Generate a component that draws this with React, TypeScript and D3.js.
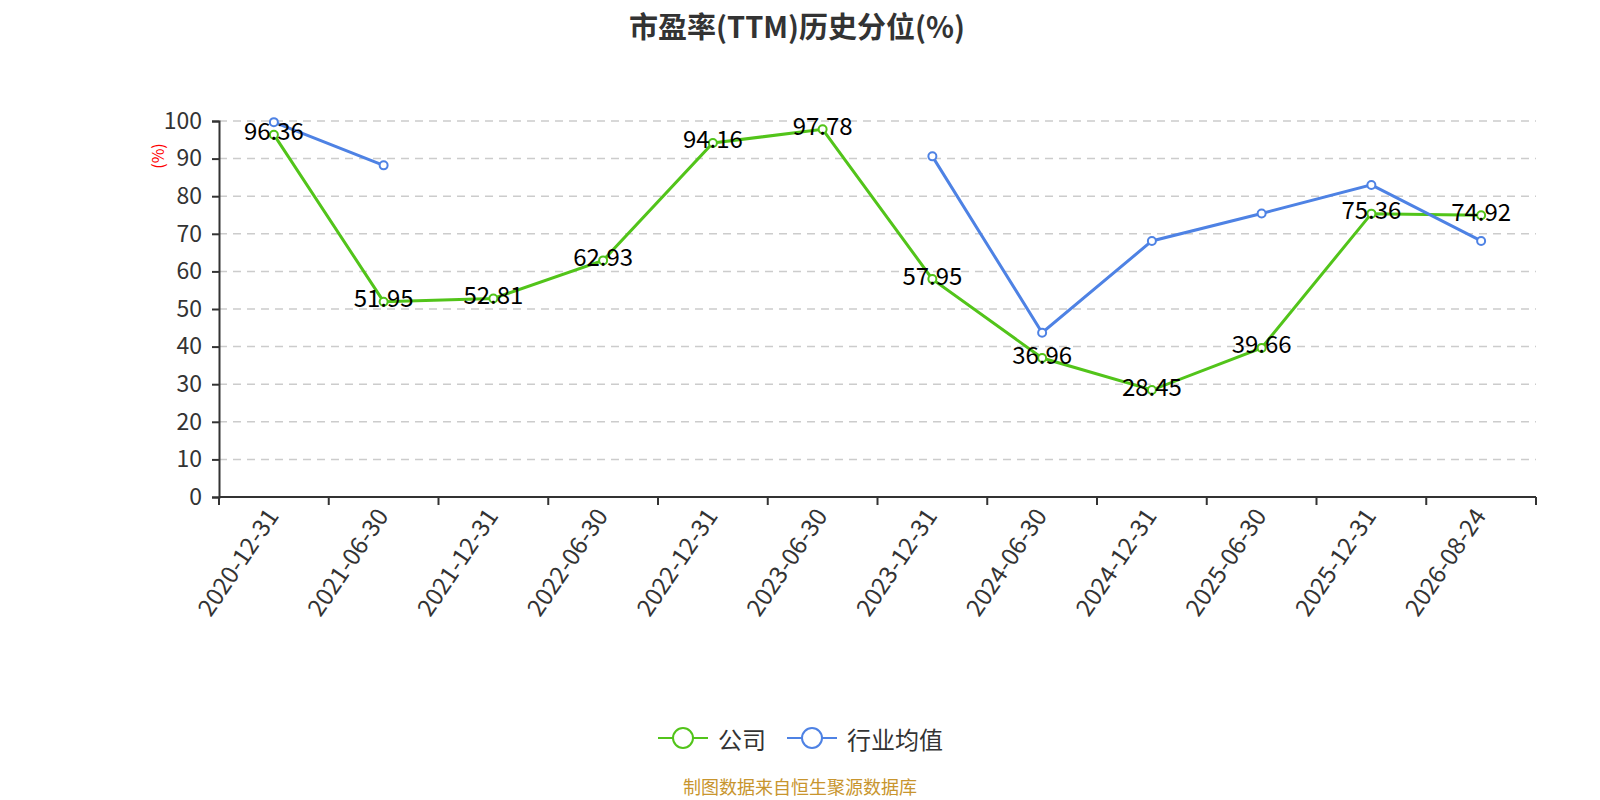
import React, { useEffect, useRef } from 'react';
import * as d3 from 'd3';

const categories = [
  '2020-12-31', '2021-06-30', '2021-12-31', '2022-06-30', '2022-12-31', '2023-06-30',
  '2023-12-31', '2024-06-30', '2024-12-31', '2025-06-30', '2025-12-31', '2026-08-24',
];
const companyValues: (number | null)[] = [96.36, 51.95, 52.81, 62.93, 94.16, 97.78, 57.95, 36.96, 28.45, 39.66, 75.36, 74.92];
const industryValues: (number | null)[] = [99.7, 88.2, null, null, null, null, 90.6, 43.7, 68.1, 75.4, 83.0, 68.1];
const yTicks = [0, 10, 20, 30, 40, 50, 60, 70, 80, 90, 100];

const seriesList = [
  { name: '公司', values: companyValues, color: '#52c41a', labels: true },
  { name: '行业均值', values: industryValues, color: '#4e82e4', labels: false },
];

const FONT = '"Noto Sans CJK SC", "Noto Sans", sans-serif';

export default function App() {
  const ref = useRef<SVGSVGElement>(null);

  useEffect(() => {
    if (!ref.current) return;
    const svg = d3.select(ref.current);
    svg.selectAll('*').remove();

    const width = 1584;
    const margin = { top: 113, right: 56, left: 211 };
    const innerBottom = 489;

    const x = d3.scaleBand<string>()
      .domain(categories)
      .range([margin.left, width - margin.right]);
    const y = d3.scaleLinear().domain([0, 100]).range([innerBottom, margin.top]);

    // title
    svg.append('text')
      .attr('x', width / 2 - 3)
      .attr('y', 17)
      .attr('text-anchor', 'middle')
      .attr('dominant-baseline', 'central')
      .style('font-family', FONT)
      .style('font-size', '29px')
      .style('font-weight', 'bold')
      .style('fill', '#333')
      .text('市盈率(TTM)历史分位(%)');

    // grid
    svg.append('g')
      .selectAll('line')
      .data(yTicks.filter(t => t > 0))
      .enter()
      .append('line')
      .attr('x1', margin.left)
      .attr('x2', width - margin.right)
      .attr('y1', d => y(d))
      .attr('y2', d => y(d))
      .attr('stroke', '#ccc')
      .attr('stroke-width', 1.5)
      .attr('stroke-dasharray', '8,6');

    // y axis
    const yAxis = svg.append('g')
      .attr('transform', `translate(${margin.left},0)`)
      .call(d3.axisLeft(y).tickValues(yTicks).tickSize(7).tickPadding(10));
    yAxis.select('.domain').attr('stroke', '#333').attr('stroke-width', 2);
    yAxis.selectAll('.tick line').attr('stroke', '#333').attr('stroke-width', 2);
    yAxis.selectAll('.tick text')
      .style('font-family', FONT)
      .style('font-size', '23px')
      .style('fill', '#333');

    svg.append('text')
      .attr('transform', `translate(149,148) rotate(-90)`)
      .attr('text-anchor', 'middle')
      .attr('dominant-baseline', 'central')
      .style('font-family', FONT)
      .style('font-size', '16px')
      .style('fill', 'red')
      .text('(%)');

    // x axis
    const xAxis = svg.append('g').attr('transform', `translate(0,${innerBottom})`);
    xAxis.append('line')
      .attr('x1', margin.left)
      .attr('x2', width - margin.right)
      .attr('stroke', '#333')
      .attr('stroke-width', 2);
    const bounds = categories.map(c => x(c)!).concat([width - margin.right]);
    xAxis.selectAll('.xtick')
      .data(bounds)
      .enter()
      .append('line')
      .attr('x1', d => d)
      .attr('x2', d => d)
      .attr('y1', 0)
      .attr('y2', 8)
      .attr('stroke', '#333')
      .attr('stroke-width', 2);
    xAxis.selectAll('.xlabel')
      .data(categories)
      .enter()
      .append('text')
      .attr('transform', d => `translate(${x(d)! + x.bandwidth() / 2 - 3},13) rotate(-56)`)
      .attr('text-anchor', 'end')
      .attr('dominant-baseline', 'central')
      .style('font-family', FONT)
      .style('font-size', '24px')
      .style('fill', '#333')
      .text(d => d);

    const cx = (i: number) => x(categories[i])! + x.bandwidth() / 2;

    seriesList.forEach(s => {
      const line = d3.line<number | null>()
        .defined(d => d !== null)
        .x((_, i) => cx(i))
        .y(d => y(d as number));
      svg.append('path')
        .datum(s.values)
        .attr('d', line)
        .attr('fill', 'none')
        .attr('stroke', s.color)
        .attr('stroke-width', 3);
    });

    seriesList.forEach(s => {
      const pts = s.values.map((v, i) => ({ v, i })).filter(p => p.v !== null);
      svg.append('g')
        .selectAll('circle')
        .data(pts)
        .enter()
        .append('circle')
        .attr('cx', d => cx(d.i))
        .attr('cy', d => y(d.v as number))
        .attr('r', 4)
        .attr('fill', '#fff')
        .attr('stroke', s.color)
        .attr('stroke-width', 2);
    });

    seriesList.filter(s => s.labels).forEach(s => {
      const pts = s.values.map((v, i) => ({ v, i })).filter(p => p.v !== null);
      svg.append('g')
        .selectAll('text')
        .data(pts)
        .enter()
        .append('text')
        .attr('x', d => cx(d.i))
        .attr('y', d => y(d.v as number) - 5)
        .attr('text-anchor', 'middle')
        .attr('dominant-baseline', 'central')
        .style('font-family', FONT)
        .style('font-size', '24px')
        .style('fill', '#000')
        .text(d => (d.v as number).toFixed(2));
    });

    // legend
    const legend = svg.append('g').attr('transform', 'translate(0,730)');
    const legendX = [650, 779];
    seriesList.forEach((s, i) => {
      const g = legend.append('g').attr('transform', `translate(${legendX[i]},0)`);
      g.append('line')
        .attr('x1', 0).attr('x2', 50)
        .attr('stroke', s.color).attr('stroke-width', 2);
      g.append('circle')
        .attr('cx', 25).attr('r', 10)
        .attr('fill', '#fff')
        .attr('stroke', s.color).attr('stroke-width', 2);
      g.append('text')
        .attr('x', 60)
        .attr('dominant-baseline', 'central')
        .style('font-family', FONT)
        .style('font-size', '24px')
        .style('fill', '#333')
        .text(s.name);
    });

    svg.append('text')
      .attr('x', width / 2)
      .attr('y', 778)
      .attr('text-anchor', 'middle')
      .attr('dominant-baseline', 'central')
      .style('font-family', FONT)
      .style('font-size', '18px')
      .style('fill', '#c8952e')
      .text('制图数据来自恒生聚源数据库');
  }, []);

  return <svg ref={ref} width={1584} height={792} style={{ display: 'block' }} />;
}
